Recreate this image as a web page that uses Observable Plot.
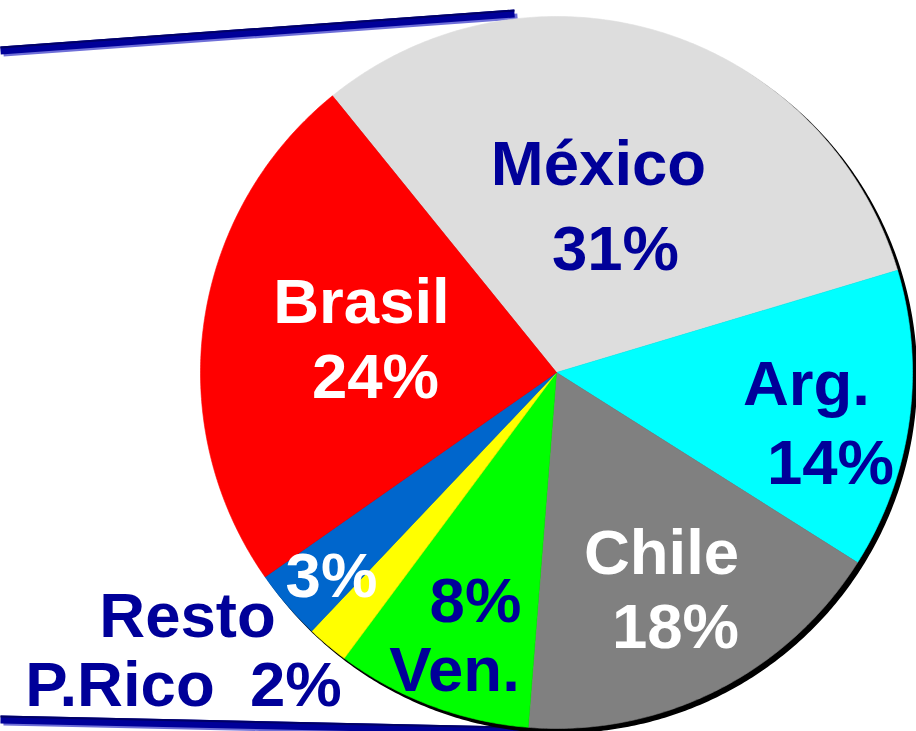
<!DOCTYPE html>
<html><head><meta charset="utf-8">
<script src="https://cdn.jsdelivr.net/npm/d3@7"></script>
<script src="https://cdn.jsdelivr.net/npm/@observablehq/plot@0.6"></script>
<style>
html,body{margin:0;padding:0;background:#fff;overflow:hidden}
svg text{white-space:pre}
</style></head><body><div id="chart"></div>
<script>
// ---- data ----
const categories = ["México", "Arg.", "Chile", "Ven.", "P.Rico", "Resto", "Brasil"];
// slice sizes as drawn in the picture (percent of the pie)
const shares = [31.2, 13.6, 17.3, 8.9, 1.9, 3.2, 23.9];
// percent labels as printed
const pctLabels = ["31%", "14%", "18%", "8%", "2%", "3%", "24%"];
const sliceColors = ["#DDDDDD", "#00FFFF", "#808080", "#00FF00", "#FFFF00", "#0066CC", "#FF0000"];
const startDeg = -39;

// ---- layout ----
const W = 916, H = 731, cx = 556, cy = 372, R = 356;
const BLUE = "#000099", WHITE = "#FFFFFF";
const pct = i => pctLabels[i];

const pie = d3.pie().sort(null).value(d => d.share)
  .startAngle(startDeg * Math.PI / 180).endAngle((startDeg + 360) * Math.PI / 180);
const arcs = pie(categories.map((name, i) => ({name, share: shares[i]})));
const pt = (a, r) => [cx + r * Math.sin(a), cy - r * Math.cos(a)];
const slicePts = arcs.flatMap(a => {
  const n = Math.max(2, Math.ceil((a.endAngle - a.startAngle) / (Math.PI / 360)));
  const pts = [{name: a.data.name, x: cx, y: cy}];
  for (let k = 0; k <= n; k++) {
    const t = a.startAngle + (a.endAngle - a.startAngle) * k / n;
    const [x, y] = pt(t, R);
    pts.push({name: a.data.name, x, y});
  }
  pts.push({name: a.data.name, x: cx, y: cy});
  return pts;
});
const circlePts = d3.range(0, 721).map(k => { const [x, y] = pt(k * Math.PI / 360, R); return {x, y}; });

const labels = [
  {text: categories[0], x: 598, y: 184, tone: BLUE},
  {text: pct(0), x: 615, y: 269, tone: BLUE},
  {text: categories[1], x: 806, y: 404, tone: BLUE},
  {text: pct(1), x: 830, y: 483, tone: BLUE},
  {text: categories[2], x: 661, y: 573, tone: WHITE},
  {text: pct(2), x: 675, y: 647, tone: WHITE},
  {text: pct(3), x: 475, y: 621, tone: BLUE},
  {text: categories[3], x: 454, y: 690, tone: BLUE},
  {text: categories[4] + "  " + pct(4), x: 183, y: 705, tone: BLUE},
  {text: pct(5), x: 331, y: 596, tone: WHITE},
  {text: categories[5], x: 187, y: 636, tone: BLUE},
  {text: categories[6], x: 361, y: 322, tone: WHITE},
  {text: pct(6), x: 375, y: 397, tone: WHITE}
];

const rules = [
  {x1: 0, y1: 50, x2: 514, y2: 13},
  {x1: 0, y1: 719, x2: 560, y2: 731}
];

const textOpts = {x: "x", y: "y", text: "text", lineAnchor: "bottom", fontSize: 63.5,
  fontWeight: "bold", fontFamily: "Liberation Sans, Arial, sans-serif"};

const chart = Plot.plot({
  width: W, height: H, margin: 0,
  style: {background: "white"},
  x: {domain: [0, W], range: [0, W], axis: null},
  y: {domain: [0, H], range: [0, H], axis: null},
  color: {domain: categories, range: sliceColors},
  marks: [
    Plot.link(rules, {x1: "x1", y1: "y1", x2: "x2", y2: "y2", stroke: "#6f6fd8", strokeWidth: 6, dx: 3, dy: 3}),
    Plot.link(rules, {x1: "x1", y1: "y1", x2: "x2", y2: "y2", stroke: BLUE, strokeWidth: 8}),
    Plot.link(rules, {x1: "x1", y1: "y1", x2: "x2", y2: "y2", stroke: "#000066", strokeWidth: 2, dy: -3}),
    Plot.line(circlePts, {x: "x", y: "y", fill: "black", stroke: "black", dx: 4, dy: 4}),
    Plot.line(slicePts, {x: "x", y: "y", z: "name", fill: "name", stroke: "name", strokeWidth: 0.6}),
    Plot.text(labels.filter(d => d.tone === BLUE), {...textOpts, fill: BLUE}),
    Plot.text(labels.filter(d => d.tone === WHITE), {...textOpts, fill: WHITE})
  ]
});
document.getElementById("chart").appendChild(chart);
</script></body></html>
